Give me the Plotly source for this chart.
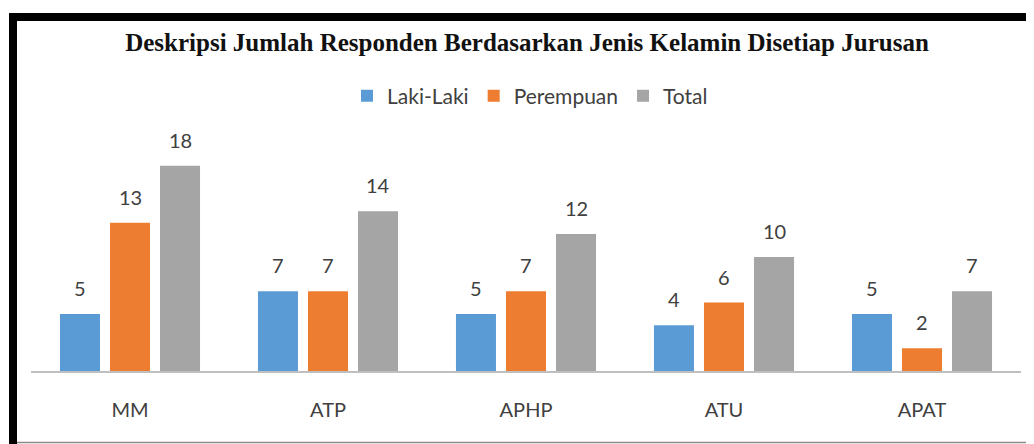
import plotly.graph_objects as go

categories = ["MM", "ATP", "APHP", "ATU", "APAT"]
laki = [5, 7, 5, 4, 5]
perempuan = [13, 7, 7, 6, 2]
total = [18, 14, 12, 10, 7]
series_names = ["Laki-Laki", "Perempuan", "Total"]
colors = ["#5B9BD5", "#ED7D31", "#A5A5A5"]
title = "Deskripsi Jumlah Responden Berdasarkan Jenis Kelamin Disetiap Jurusan"

# page body has an 8px margin, so the figure starts at (8, 8) in the window
OFF = 8
W, H = 1034 - OFF, 444 - OFF
# plot area in window coordinates: x 31..1021, y 120..371
L, R = 31 - OFF, 1034 - 1021
T, B = 120 - OFF, 444 - 371
pw, ph = W - L - R, H - T - B

def px(x):  # window x -> paper
    return (x - OFF - L) / pw

def py(y):  # window y -> paper
    return (H - B - (y - OFF)) / ph

bargap = 0.242
bargroupgap = 0.2

fig = go.Figure()
series = [laki, perempuan, total]
for name, vals, c in zip(series_names, series, colors):
    fig.add_trace(go.Bar(x=categories, y=vals, name=name, marker_color=c,
                         marker_line_width=0))

slot = (1 - bargap) / 3
annotations = []
for k, vals in enumerate(series):
    off = (k - 1) * slot
    for i, v in enumerate(vals):
        annotations.append(dict(x=i + off, y=v, xref="x", yref="y", text=str(v),
                                showarrow=False, yanchor="bottom", yshift=12,
                                font=dict(family="Lato", size=20, color="#404040")))

shapes = [
    dict(type="rect", xref="paper", yref="paper", x0=px(9), x1=px(17), y0=py(452), y1=py(13),
         fillcolor="black", line_width=0, layer="above"),
    dict(type="rect", xref="paper", yref="paper", x0=px(9), x1=px(1040), y0=py(21), y1=py(13),
         fillcolor="black", line_width=0, layer="above"),
    dict(type="line", xref="paper", yref="paper", x0=px(17), x1=px(1040), y0=py(442.5), y1=py(442.5),
         line=dict(color="#8a8a8a", width=1.5), layer="above"),
]

fig.update_layout(
    width=W, height=H,
    margin=dict(l=L, r=R, t=T, b=B),
    paper_bgcolor="white", plot_bgcolor="white",
    barmode="group", bargap=bargap, bargroupgap=bargroupgap,
    title=dict(text="<b>" + title + "</b>", x=px(527), xanchor="center",
               xref="paper", y=1 - (42 - OFF) / H, yanchor="middle",
               font=dict(family="Liberation Serif", size=25, color="#111111")),
    legend=dict(orientation="h", x=px(530), xanchor="center", y=py(96), yanchor="middle",
                font=dict(family="Lato", size=21, color="#404040"),
                itemwidth=30, traceorder="normal"),
    xaxis=dict(showline=True, linecolor="#BFBFBF", linewidth=1.5, showgrid=False,
               ticks="outside", ticklen=20, tickcolor="rgba(0,0,0,0)",
               tickfont=dict(family="Lato", size=20, color="#404040"), fixedrange=True),
    yaxis=dict(range=[0, 22], visible=False, showgrid=False, fixedrange=True),
    annotations=annotations,
    shapes=shapes,
    showlegend=True,
)

fig.write_html("out.html")
